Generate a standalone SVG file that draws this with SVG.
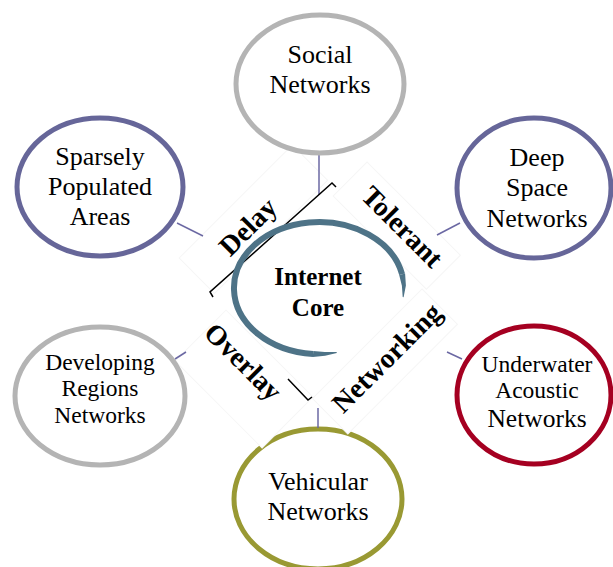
<svg xmlns="http://www.w3.org/2000/svg" width="613" height="567" viewBox="0 0 613 567">
  <style>
    .node { fill: #ffffff; stroke-width: 5; }
    .gray { stroke: #b4b4b4; }
    .purple { stroke: #666699; }
    .red { stroke: #a50021; }
    .olive { stroke: #999933; }
    .label { font-family: "Liberation Serif", "Times New Roman", serif; fill: #000000; text-anchor: middle; }
    .n26 { font-size: 26px; }
    .n24 { font-size: 23.5px; }
    .band { font-family: "Liberation Serif", "Times New Roman", serif; font-weight: bold; font-size: 28px; fill: #000000; text-anchor: middle; }
    .core { font-family: "Liberation Serif", "Times New Roman", serif; font-weight: bold; font-size: 25px; fill: #000000; text-anchor: middle; }
    .plate { fill: #ffffff; stroke: #f6f6f6; stroke-width: 1; }
    .link { stroke: #6b68a3; stroke-width: 1.5; fill: none; }
    .bracket { stroke: #000000; stroke-width: 1.5; fill: none; }
  </style>

  <rect width="613" height="567" fill="#ffffff"/>

  <!-- bottom node sits beneath the label plates -->
  <g id="vehicular">
    <ellipse class="node olive" cx="318" cy="499" rx="84" ry="70"/>
  </g>

  <!-- white plates carrying the rotated band labels -->
  <g id="plates">
    <rect class="plate" transform="translate(247,227) rotate(-45)" x="-70" y="-26" width="160" height="50"/>
    <rect class="plate" transform="translate(401,227) rotate(45)" x="-70" y="-22" width="132" height="48"/>
    <rect class="plate" transform="translate(243,361) rotate(45)" x="-48" y="-24" width="123" height="72"/>
    <rect class="plate" transform="translate(386,359) rotate(-45)" x="-80" y="-24" width="155" height="50"/>
  </g>

  <!-- connectors -->
  <g id="connectors">
    <line class="link" x1="319" y1="155" x2="319" y2="195"/>
    <line class="link" x1="177" y1="223" x2="203" y2="236"/>
    <line class="link" x1="460" y1="223" x2="437" y2="235"/>
    <line class="link" x1="175" y1="359" x2="186" y2="352"/>
    <line class="link" x1="462" y1="359" x2="447" y2="352"/>
    <line class="link" x1="318" y1="408" x2="318" y2="428"/>
  </g>

  <!-- bracket marks around the core -->
  <g id="brackets">
    <path class="bracket" d="M213,297 L210,292 L332,183 L336,187"/>
    <path class="bracket" d="M288,379 L308,400 L312,397"/>
  </g>

  <!-- core: open ring with tapered ends -->
  <g id="core">
    <path d="M402.1,274.3 A85,66 0 1 0 313.1,353.9" fill="none" stroke="#4e7387" stroke-width="6"/>
    <polygon fill="#4e7387" points="405.1,273.6 405.9,285.6 403.6,297.2 402.7,297.1 401.9,285.8 399.2,274.9"/>
    <polygon fill="#4e7387" points="312.8,356.9 325.1,355.8 336.8,353.0 336.6,352.1 324.8,351.9 313.3,350.9"/>
    <text class="core" x="318" y="285">Internet</text>
    <text class="core" x="318" y="316">Core</text>
  </g>

  <!-- band labels -->
  <g id="band-labels">
    <text class="band" transform="translate(248,227) rotate(-45)" y="9">Delay</text>
    <text class="band" transform="translate(402,227) rotate(45)" y="9">Tolerant</text>
    <text class="band" transform="translate(243,362) rotate(45)" y="9">Overlay</text>
    <text class="band" transform="translate(387,358) rotate(-45)" y="9">Networking</text>
  </g>

  <g id="social">
    <ellipse class="node gray" cx="320" cy="84" rx="84" ry="69"/>
    <text class="label n26" x="320" y="63">Social</text>
    <text class="label n26" x="320" y="93">Networks</text>
  </g>

  <g id="sparse">
    <ellipse class="node purple" cx="100" cy="187" rx="83" ry="69"/>
    <text class="label n26" x="100" y="165">Sparsely</text>
    <text class="label n26" x="100" y="195">Populated</text>
    <text class="label n26" x="100" y="225">Areas</text>
  </g>

  <g id="deep-space">
    <ellipse class="node purple" cx="534" cy="188" rx="77" ry="70"/>
    <text class="label n26" x="537" y="166">Deep</text>
    <text class="label n26" x="537" y="196">Space</text>
    <text class="label n26" x="537" y="227">Networks</text>
  </g>

  <g id="developing">
    <ellipse class="node gray" cx="100" cy="396" rx="85" ry="69"/>
    <text class="label n24" x="100" y="370">Developing</text>
    <text class="label n24" x="100" y="396">Regions</text>
    <text class="label n24" x="100" y="423">Networks</text>
  </g>

  <g id="underwater">
    <ellipse class="node red" cx="534" cy="395" rx="77" ry="69"/>
    <text class="label n24" x="537" y="372">Underwater</text>
    <text class="label n24" x="537" y="398">Acoustic</text>
    <text class="label" x="537" y="427" font-size="25.5">Networks</text>
  </g>

  <g id="vehicular-text">
    <text class="label n26" x="318" y="490">Vehicular</text>
    <text class="label n26" x="318" y="520">Networks</text>
  </g>
</svg>
